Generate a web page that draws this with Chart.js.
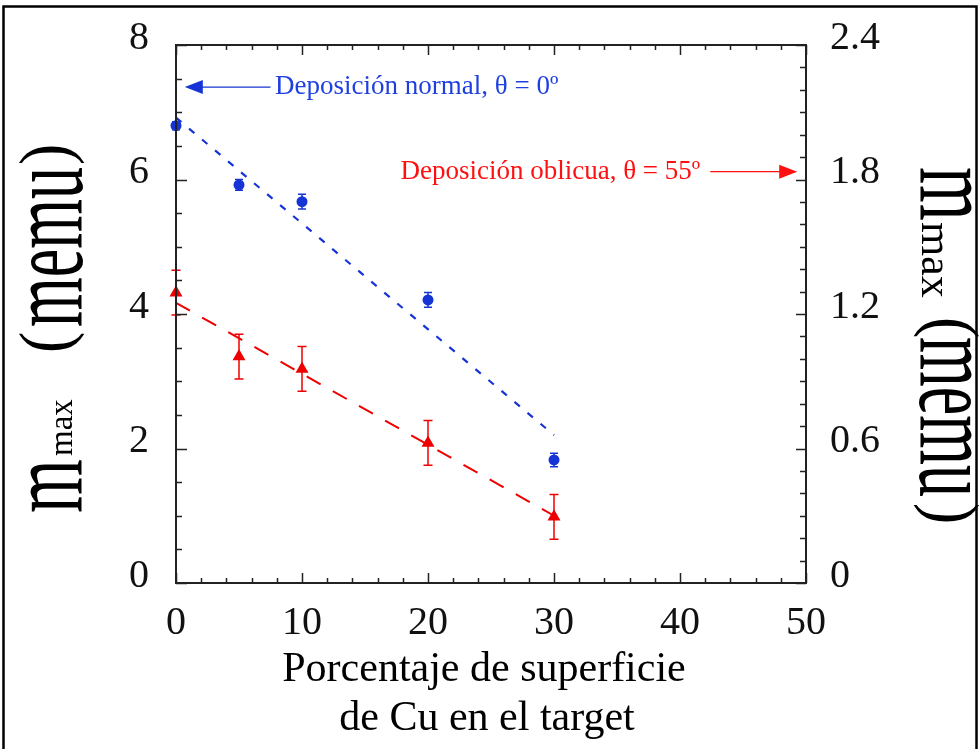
<!DOCTYPE html>
<html>
<head>
<meta charset="utf-8">
<script src="https://cdn.jsdelivr.net/npm/chart.js@4.4.0/dist/chart.umd.min.js"></script>
<style>
  html, body { margin: 0; padding: 0; background: #fff; }
  canvas { display: block; }
</style>
</head>
<body>
<canvas id="mmaxChart" width="980" height="749"></canvas>
<script>
// m_max vs % de superficie de Cu en el target
const cuPct = [0, 5, 10, 20, 30];
const normalMmax = [6.80, 5.92, 5.67, 4.21, 1.83];   // eje izquierdo
const normalErr = [0.06, 0.08, 0.11, 0.11, 0.10];
const obliqueMmax = [1.295, 1.01, 0.955, 0.625, 0.295]; // eje derecho
const obliqueErr = [0.10, 0.10, 0.10, 0.10, 0.10];

// ajustes lineales
const fitX = [0, 30];
const normalFit = [6.92, 2.20];
const obliqueFit = [1.25, 0.30];

const xTicks = [0, 10, 20, 30, 40, 50];
const leftTicks = [0, 2, 4, 6, 8];
const rightTicks = [0, 0.6, 1.2, 1.8, 2.4];

const SERIF = "'Liberation Serif', 'Times New Roman', serif";
const BLUE = '#1634d6';
const RED = '#ee0000';
const AXIS = '#222';

const pts = (xs, ys) => xs.map((x, i) => ({ x: x, y: ys[i] }));

function drawRotTitle(ctx, x, y, angle, segs) {
  ctx.save();
  ctx.translate(x, y);
  ctx.rotate(angle);
  ctx.fillStyle = '#000';
  ctx.textAlign = 'left';
  ctx.textBaseline = 'alphabetic';
  segs.forEach(s => {
    ctx.save();
    ctx.translate(s.at, -(s.rise || 0));
    ctx.scale(s.sx || 1, s.sy || 1);
    ctx.font = s.size + 'px ' + SERIF;
    ctx.fillText(s.text, 0, 0);
    ctx.restore();
  });
  ctx.restore();
}

function arrow(ctx, x1, x2, y, color) {
  const dir = x2 > x1 ? 1 : -1;
  ctx.strokeStyle = color;
  ctx.fillStyle = color;
  ctx.lineWidth = 1.3;
  ctx.beginPath();
  ctx.moveTo(x1, y);
  ctx.lineTo(x2 - dir * 14, y);
  ctx.stroke();
  ctx.beginPath();
  ctx.moveTo(x2, y);
  ctx.lineTo(x2 - dir * 18, y - 7);
  ctx.lineTo(x2 - dir * 18, y + 7);
  ctx.closePath();
  ctx.fill();
}

const decorPlugin = {
  id: 'decor',
  afterDatasetsDraw(chart) {
    const ctx = chart.ctx;
    const x = chart.scales.x, yl = chart.scales.y, yr = chart.scales.y1;
    // barras de error
    [[normalMmax, normalErr, yl, BLUE, 4], [obliqueMmax, obliqueErr, yr, RED, 4.5]].forEach(([vals, errs, sc, col, cap]) => {
      ctx.save();
      ctx.strokeStyle = col;
      ctx.lineWidth = 1.5;
      cuPct.forEach((c, i) => {
        const px = x.getPixelForValue(c);
        const top = sc.getPixelForValue(vals[i] + errs[i]);
        const bot = sc.getPixelForValue(vals[i] - errs[i]);
        ctx.beginPath();
        ctx.moveTo(px, top); ctx.lineTo(px, bot);
        ctx.moveTo(px - cap, top); ctx.lineTo(px + cap, top);
        ctx.moveTo(px - cap, bot); ctx.lineTo(px + cap, bot);
        ctx.stroke();
      });
      ctx.restore();
    });
  },
  afterDraw(chart) {
    const ctx = chart.ctx;
    const a = chart.chartArea;
    const x = chart.scales.x, yl = chart.scales.y, yr = chart.scales.y1;
    ctx.save();
    // marco exterior de la figura
    ctx.strokeStyle = '#000';
    ctx.lineWidth = 2.5;
    ctx.strokeRect(3.5, 6.5, 973, 800);

    // marco del gráfico y marcas internas
    ctx.strokeStyle = AXIS;
    ctx.lineWidth = 2;
    ctx.strokeRect(a.left, a.top, a.right - a.left, a.bottom - a.top);
    ctx.lineWidth = 1.5;
    ctx.beginPath();
    for (let v = 0; v <= 50.001; v += 2) {
      const px = Math.round(x.getPixelForValue(v)) + 0.5;
      const len = Math.abs(v % 10) < 1e-6 ? 10 : 5;
      ctx.moveTo(px, a.bottom); ctx.lineTo(px, a.bottom - len);
      ctx.moveTo(px, a.top); ctx.lineTo(px, a.top + len);
    }
    for (let v = 0; v <= 8.001; v += 0.5) {
      const py = Math.round(yl.getPixelForValue(v)) + 0.5;
      const len = Math.abs(v % 2) < 1e-6 ? 11 : 6;
      ctx.moveTo(a.left, py); ctx.lineTo(a.left + len, py);
    }
    for (let k = 0; k <= 24; k++) {
      const py = Math.round(yr.getPixelForValue(k / 10)) + 0.5;
      const len = k % 6 === 0 ? 10 : 6;
      ctx.moveTo(a.right, py); ctx.lineTo(a.right - len, py);
    }
    ctx.stroke();

    // anotaciones
    const yBlue = yl.getPixelForValue(7.375);
    arrow(ctx, x.getPixelForValue(7.5), x.getPixelForValue(0.7), yBlue, BLUE);
    ctx.font = '27px ' + SERIF;
    ctx.textBaseline = 'middle';
    ctx.textAlign = 'left';
    ctx.fillStyle = '#1f3fe0';
    ctx.fillText('Deposición normal, θ = 0º', x.getPixelForValue(7.86), yBlue);

    const yRed = yr.getPixelForValue(1.835);
    arrow(ctx, x.getPixelForValue(42.4), x.getPixelForValue(49.3), yRed, '#ff1010');
    ctx.textAlign = 'right';
    ctx.fillStyle = '#ff1010';
    ctx.fillText('Deposición oblicua, θ = 55º', x.getPixelForValue(41.6), yRed);

    // título eje x
    ctx.fillStyle = '#000';
    ctx.textAlign = 'center';
    ctx.textBaseline = 'alphabetic';
    ctx.font = '42px ' + SERIF;
    const cx = (a.left + a.right) / 2 - 7;
    ctx.fillText('Porcentaje de superficie', cx, 681);
    ctx.fillText('de Cu en el target', cx + 3, 730);

    // títulos de ejes y
    drawRotTitle(ctx, 82, 513, -Math.PI / 2, [
      { text: 'm', at: 0, size: 64, sx: 1.08, sy: 1.7 },
      { text: 'max', at: 57, size: 33, rise: 10 },
      { text: '(', at: 160, size: 64, sy: 1.12, rise: 13 },
      { text: 'memu', at: 186, size: 64, sy: 1.7 },
      { text: ')', at: 348, size: 64, sy: 1.12, rise: 13 }
    ]);
    drawRotTitle(ctx, 920, 167, Math.PI / 2, [
      { text: 'm', at: 0, size: 64, sx: 1.08, sy: 1.7 },
      { text: 'max', at: 55, size: 44, rise: 2 },
      { text: '(', at: 150, size: 64, sy: 1.12, rise: 9 },
      { text: 'memu', at: 170, size: 64, sy: 1.7 },
      { text: ')', at: 336, size: 64, sy: 1.12, rise: 9 }
    ]);
    ctx.restore();
  }
};

const tickFont = { family: SERIF, size: 40 };

new Chart(document.getElementById('mmaxChart'), {
  type: 'scatter',
  data: {
    datasets: [
      {
        label: 'Deposición normal',
        data: pts(cuPct, normalMmax),
        yAxisID: 'y',
        pointStyle: 'circle',
        pointRadius: 5.5,
        backgroundColor: BLUE,
        borderColor: BLUE,
        borderWidth: 0,
        clip: false,
        order: 1
      },
      {
        label: 'Deposición oblicua',
        data: pts(cuPct, obliqueMmax),
        yAxisID: 'y1',
        pointStyle: 'triangle',
        pointRadius: 7.5,
        backgroundColor: RED,
        borderColor: RED,
        borderWidth: 0,
        clip: false,
        order: 1
      },
      {
        type: 'line',
        label: 'Ajuste normal',
        data: pts(fitX, normalFit),
        yAxisID: 'y',
        borderColor: BLUE,
        borderWidth: 2.2,
        borderDash: [7, 10],
        pointRadius: 0,
        fill: false,
        order: 2
      },
      {
        type: 'line',
        label: 'Ajuste oblicua',
        data: pts(fitX, obliqueFit),
        yAxisID: 'y1',
        borderColor: RED,
        borderWidth: 2,
        borderDash: [16, 14],
        pointRadius: 0,
        fill: false,
        order: 2
      }
    ]
  },
  options: {
    responsive: false,
    devicePixelRatio: 1,
    animation: false,
    layout: { padding: { top: 45, left: 0, right: 0, bottom: 0 } },
    plugins: { legend: { display: false }, tooltip: { enabled: false } },
    scales: {
      x: {
        type: 'linear',
        min: 0, max: 50,
        grid: { display: false },
        border: { display: false },
        afterBuildTicks: s => { s.ticks = xTicks.map(v => ({ value: v })); },
        afterFit: s => { s.height = 166; },
        ticks: { font: tickFont, color: '#111', padding: 8, maxRotation: 0 }
      },
      y: {
        position: 'left',
        min: 0, max: 8,
        grid: { display: false },
        border: { display: false },
        afterBuildTicks: s => { s.ticks = leftTicks.map(v => ({ value: v })); },
        afterFit: s => { s.width = 176; },
        ticks: { font: tickFont, color: '#111', padding: 19, labelOffset: -7 }
      },
      y1: {
        position: 'right',
        min: 0, max: 2.4,
        grid: { display: false },
        border: { display: false },
        afterBuildTicks: s => { s.ticks = rightTicks.map(v => ({ value: v })); },
        afterFit: s => { s.width = 174; },
        ticks: {
          font: tickFont, color: '#111', padding: 16, labelOffset: -7,
          callback: v => (v === 0 ? '0' : Number(v).toFixed(1))
        }
      }
    }
  },
  plugins: [decorPlugin]
});
</script>
</body>
</html>
